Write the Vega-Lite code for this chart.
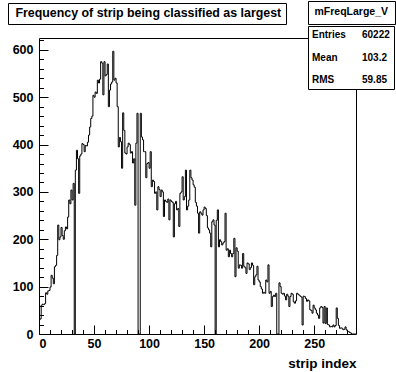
{
  "$schema": "https://vega.github.io/schema/vega-lite/v6.json",
  "width": 317,
  "height": 296,
  "autosize": {"type": "none"},
  "padding": {"left": 39, "top": 38, "right": 40, "bottom": 38},
  "background": "white",
  "config": {
    "view": {"stroke": "black", "strokeWidth": 1},
    "font": "Liberation Sans",
    "axis": {"domain": false, "grid": false, "tickColor": "black", "tickWidth": 1, "labelColor": "black", "labelFont": "Liberation Sans", "labelFontWeight": "bold", "labelFontSize": 12.5, "titleFont": "Liberation Sans", "titleFontWeight": "bold", "titleFontSize": 13.5, "titleColor": "black"},
    "legend": {"title": null, "fillColor": "white", "strokeColor": "black", "strokeWidth": 1, "symbolSize": 1, "symbolStrokeWidth": 0, "symbolOpacity": 0, "labelOffset": -10, "labelFont": "Liberation Sans", "labelFontWeight": "bold", "labelColor": "black", "labelLimit": 400}
  },
  "datasets": {
    "hist": [
      {"strip":0,"n":30},{"strip":1,"n":32},{"strip":2,"n":61},{"strip":3,"n":63},{"strip":4,"n":62},{"strip":5,"n":64},{"strip":6,"n":87},{"strip":7,"n":84},{"strip":8,"n":91},{"strip":9,"n":92},
      {"strip":10,"n":99},{"strip":11,"n":124},{"strip":12,"n":118},{"strip":13,"n":106},{"strip":14,"n":142},{"strip":15,"n":145},{"strip":16,"n":166},{"strip":17,"n":230},{"strip":18,"n":199},{"strip":19,"n":205},
      {"strip":20,"n":225},{"strip":21,"n":208},{"strip":22,"n":200},{"strip":23,"n":218},{"strip":24,"n":226},{"strip":25,"n":222},{"strip":26,"n":247},{"strip":27,"n":283},{"strip":28,"n":275},{"strip":29,"n":304},
      {"strip":30,"n":283},{"strip":31,"n":318},{"strip":32,"n":0},{"strip":33,"n":346},{"strip":34,"n":388},{"strip":35,"n":370},{"strip":36,"n":297},{"strip":37,"n":376},{"strip":38,"n":380},{"strip":39,"n":402},
      {"strip":40,"n":400},{"strip":41,"n":385},{"strip":42,"n":398},{"strip":43,"n":397},{"strip":44,"n":405},{"strip":45,"n":420},{"strip":46,"n":437},{"strip":47,"n":455},{"strip":48,"n":460},{"strip":49,"n":504},
      {"strip":50,"n":500},{"strip":51,"n":511},{"strip":52,"n":508},{"strip":53,"n":536},{"strip":54,"n":530},{"strip":55,"n":538},{"strip":56,"n":575},{"strip":57,"n":572},{"strip":58,"n":505},{"strip":59,"n":575},
      {"strip":60,"n":545},{"strip":61,"n":548},{"strip":62,"n":570},{"strip":63,"n":480},{"strip":64,"n":515},{"strip":65,"n":528},{"strip":66,"n":532},{"strip":67,"n":597},{"strip":68,"n":536},{"strip":69,"n":540},
      {"strip":70,"n":530},{"strip":71,"n":480},{"strip":72,"n":395},{"strip":73,"n":415},{"strip":74,"n":406},{"strip":75,"n":350},{"strip":76,"n":467},{"strip":77,"n":430},{"strip":78,"n":382},{"strip":79,"n":380},
      {"strip":80,"n":395},{"strip":81,"n":403},{"strip":82,"n":400},{"strip":83,"n":382},{"strip":84,"n":385},{"strip":85,"n":361},{"strip":86,"n":370},{"strip":87,"n":272},{"strip":88,"n":403},{"strip":89,"n":466},
      {"strip":90,"n":0},{"strip":91,"n":0},{"strip":92,"n":466},{"strip":93,"n":416},{"strip":94,"n":410},{"strip":95,"n":385},{"strip":96,"n":385},{"strip":97,"n":330},{"strip":98,"n":360},{"strip":99,"n":362},
      {"strip":100,"n":350},{"strip":101,"n":385},{"strip":102,"n":311},{"strip":103,"n":325},{"strip":104,"n":322},{"strip":105,"n":297},{"strip":106,"n":300},{"strip":107,"n":262},{"strip":108,"n":311},{"strip":109,"n":305},
      {"strip":110,"n":290},{"strip":111,"n":304},{"strip":112,"n":300},{"strip":113,"n":248},{"strip":114,"n":283},{"strip":115,"n":280},{"strip":116,"n":278},{"strip":117,"n":285},{"strip":118,"n":241},{"strip":119,"n":283},
      {"strip":120,"n":280},{"strip":121,"n":278},{"strip":122,"n":205},{"strip":123,"n":275},{"strip":124,"n":280},{"strip":125,"n":262},{"strip":126,"n":265},{"strip":127,"n":227},{"strip":128,"n":297},{"strip":129,"n":300},
      {"strip":130,"n":332},{"strip":131,"n":283},{"strip":132,"n":290},{"strip":133,"n":346},{"strip":134,"n":262},{"strip":135,"n":270},{"strip":136,"n":283},{"strip":137,"n":346},{"strip":138,"n":330},{"strip":139,"n":325},
      {"strip":140,"n":315},{"strip":141,"n":310},{"strip":142,"n":278},{"strip":143,"n":270},{"strip":144,"n":255},{"strip":145,"n":213},{"strip":146,"n":258},{"strip":147,"n":255},{"strip":148,"n":251},{"strip":149,"n":262},
      {"strip":150,"n":268},{"strip":151,"n":265},{"strip":152,"n":250},{"strip":153,"n":224},{"strip":154,"n":220},{"strip":155,"n":213},{"strip":156,"n":184},{"strip":157,"n":237},{"strip":158,"n":241},{"strip":159,"n":230},
      {"strip":160,"n":0},{"strip":161,"n":240},{"strip":162,"n":262},{"strip":163,"n":184},{"strip":164,"n":199},{"strip":165,"n":195},{"strip":166,"n":188},{"strip":167,"n":192},{"strip":168,"n":195},{"strip":169,"n":255},
      {"strip":170,"n":177},{"strip":171,"n":180},{"strip":172,"n":163},{"strip":173,"n":177},{"strip":174,"n":170},{"strip":175,"n":163},{"strip":176,"n":170},{"strip":177,"n":202},{"strip":178,"n":121},{"strip":179,"n":182},
      {"strip":180,"n":175},{"strip":181,"n":139},{"strip":182,"n":146},{"strip":183,"n":145},{"strip":184,"n":139},{"strip":185,"n":170},{"strip":186,"n":143},{"strip":187,"n":140},{"strip":188,"n":128},{"strip":189,"n":150},
      {"strip":190,"n":148},{"strip":191,"n":136},{"strip":192,"n":140},{"strip":193,"n":150},{"strip":194,"n":145},{"strip":195,"n":104},{"strip":196,"n":121},{"strip":197,"n":125},{"strip":198,"n":143},{"strip":199,"n":114},
      {"strip":200,"n":110},{"strip":201,"n":100},{"strip":202,"n":95},{"strip":203,"n":86},{"strip":204,"n":88},{"strip":205,"n":86},{"strip":206,"n":114},{"strip":207,"n":110},{"strip":208,"n":146},{"strip":209,"n":86},
      {"strip":210,"n":90},{"strip":211,"n":58},{"strip":212,"n":79},{"strip":213,"n":82},{"strip":214,"n":79},{"strip":215,"n":86},{"strip":216,"n":0},{"strip":217,"n":0},{"strip":218,"n":108},{"strip":219,"n":100},
      {"strip":220,"n":86},{"strip":221,"n":84},{"strip":222,"n":86},{"strip":223,"n":80},{"strip":224,"n":72},{"strip":225,"n":84},{"strip":226,"n":80},{"strip":227,"n":58},{"strip":228,"n":79},{"strip":229,"n":86},
      {"strip":230,"n":84},{"strip":231,"n":68},{"strip":232,"n":65},{"strip":233,"n":70},{"strip":234,"n":86},{"strip":235,"n":84},{"strip":236,"n":82},{"strip":237,"n":80},{"strip":238,"n":78},{"strip":239,"n":19},
      {"strip":240,"n":80},{"strip":241,"n":79},{"strip":242,"n":75},{"strip":243,"n":69},{"strip":244,"n":72},{"strip":245,"n":70},{"strip":246,"n":51},{"strip":247,"n":50},{"strip":248,"n":44},{"strip":249,"n":61},
      {"strip":250,"n":55},{"strip":251,"n":51},{"strip":252,"n":44},{"strip":253,"n":40},{"strip":254,"n":33},{"strip":255,"n":55},{"strip":256,"n":58},{"strip":257,"n":56},{"strip":258,"n":23},{"strip":259,"n":58},
      {"strip":260,"n":22},{"strip":261,"n":55},{"strip":262,"n":20},{"strip":263,"n":19},{"strip":264,"n":15},{"strip":265,"n":16},{"strip":266,"n":15},{"strip":267,"n":19},{"strip":268,"n":15},{"strip":269,"n":18},
      {"strip":270,"n":55},{"strip":271,"n":33},{"strip":272,"n":18},{"strip":273,"n":12},{"strip":274,"n":13},{"strip":275,"n":12},{"strip":276,"n":9},{"strip":277,"n":10},{"strip":278,"n":15},{"strip":279,"n":9},
      {"strip":280,"n":6},{"strip":281,"n":5},{"strip":282,"n":3},{"strip":283,"n":2},{"strip":284,"n":0},{"strip":285,"n":0},{"strip":286,"n":0},{"strip":287,"n":0},{"strip":288,"n":0}
    ],
    "stats": [
      {"stat": "Entries", "value": "60222"},
      {"stat": "Mean", "value": "103.2"},
      {"stat": "RMS", "value": "59.85"}
    ]
  },
  "layer": [
    {
      "data": {"name": "hist"},
      "mark": {"type": "line", "interpolate": "step-after", "color": "black", "strokeWidth": 1},
      "encoding": {
        "x": {"field": "strip", "type": "quantitative", "scale": {"domain": [0, 288], "nice": false, "zero": false},
              "axis": {"orient": "bottom", "values": [0, 50, 100, 150, 200, 250], "tickSize": -9, "labelPadding": 12, "title": "strip index", "titleAnchor": "end", "titleAlign": "right", "titlePadding": 7}},
        "y": {"field": "n", "type": "quantitative", "scale": {"domain": [0, 625], "nice": false},
              "axis": {"orient": "left", "values": [0, 100, 200, 300, 400, 500, 600], "tickSize": -9, "labelPadding": 15, "title": null}}
      }
    },
    {
      "data": {"name": "hist"},
      "mark": {"type": "line", "interpolate": "step-after", "strokeOpacity": 0},
      "encoding": {
        "x": {"field": "strip", "type": "quantitative",
              "axis": {"orient": "bottom", "values": [10,20,30,40,60,70,80,90,110,120,130,140,160,170,180,190,210,220,230,240,260,270,280], "tickSize": -4.5, "labels": false, "title": null}},
        "y": {"field": "n", "type": "quantitative",
              "axis": {"orient": "left", "values": [20,40,60,80,120,140,160,180,220,240,260,280,320,340,360,380,420,440,460,480,520,540,560,580,620], "tickSize": -4.5, "labels": false, "title": null}}
      }
    },
    {
      "data": {"values": [{"t": "Frequency of strip being classified as largest"}]},
      "mark": {"type": "point", "opacity": 0},
      "encoding": {
        "fill": {"field": "t", "type": "nominal", "scale": {"range": ["white"]},
                 "legend": {"orient": "none", "legendX": -31, "legendY": -35, "labelFontSize": 12.4, "padding": 4, "labelOffset": -9}}
      }
    },
    {
      "data": {"values": [{"h": "mFreqLarge_V"}]},
      "mark": {"type": "point", "opacity": 0},
      "encoding": {
        "shape": {"field": "h", "type": "nominal",
                  "legend": {"orient": "none", "legendX": 269, "legendY": -37, "labelFontSize": 10.5, "padding": 6}}
      }
    },
    {
      "data": {"name": "stats"},
      "transform": [{"fold": ["stat", "value"], "as": ["kind", "cell"]}],
      "mark": {"type": "point", "opacity": 0},
      "encoding": {
        "color": {"field": "cell", "type": "nominal", "sort": ["Entries", "Mean", "RMS", "60222", "103.2", "59.85"], "scale": {"range": ["white"]},
                  "legend": {"orient": "none", "legendX": 269, "legendY": -12, "labelFontSize": 10, "padding": 4, "columns": 2, "columnPadding": 16, "rowPadding": 12.5}}
      }
    }
  ],
  "resolve": {"axis": {"x": "independent", "y": "independent"}}
}
